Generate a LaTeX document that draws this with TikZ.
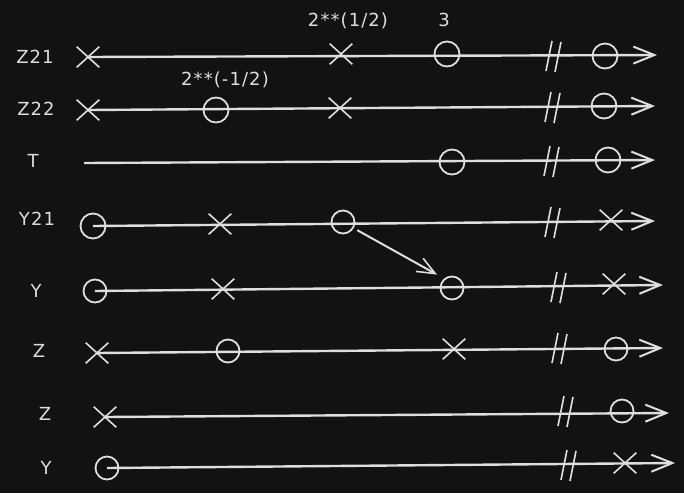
\documentclass[tikz,border=0pt]{standalone}
\usepackage{fontspec}
\setmainfont{DejaVu Sans}[LetterSpace=6]
\usetikzlibrary{arrows.meta, shapes.misc}

\definecolor{bg}{HTML}{121212}
\definecolor{ink}{HTML}{DEDEDE}

\tikzset{
    axis/.style={ink, line width=2.4pt, -{Straight Barb[length=21pt, width=17pt, line width=2pt]}},
    zero/.style={circle, draw=ink, line width=1.8pt, minimum size=25pt, inner sep=0pt},
    pole/.style={cross out, draw=ink, line width=1.6pt, minimum width=21pt, minimum height=19pt, inner sep=0pt},
    lbl/.style={text=ink, font=\fontsize{18}{20}\selectfont},
    brk/.pic={
        \draw[ink, line width=1.6pt] (-8,15) -- (-2,-15);
        \draw[ink, line width=1.6pt] (1,16) -- (7,-14);
    }
}

\begin{document}
\begin{tikzpicture}[x=1pt, y=-1pt]
    \fill[bg] (0,0) rectangle (684,493);
    \useasboundingbox (0,0) rectangle (684,493);

    % Z21
    \node[lbl] (l1) at (35,57) {Z21};
    \node[pole] (a1) at (88,57) {};
    \node[pole] (a2) at (341,54) {};
    \node[zero] (a3) at (447,54) {};
    \node[zero] (a4) at (605,56) {};
    \coordinate (ae) at (657,55);
    \draw[axis] (a1.center) -- (ae);
    \pic at (554,56) {brk};
    \node[lbl] (v1) at (348,21) {2**(1/2)};
    \node[lbl] (v2) at (444,20) {3};

    % Z22
    \node[lbl] (l2) at (36,109) {Z22};
    \node[pole] (b1) at (88,110) {};
    \node[zero] (b2) at (216,110) {};
    \node[pole] (b3) at (340,108) {};
    \node[zero] (b4) at (604,106) {};
    \coordinate (be) at (655,106);
    \draw[axis] (b1.center) -- (be);
    \pic at (553,107) {brk};
    \node[lbl] (v3) at (225,80) {2**(-1/2)};

    % T
    \node[lbl] (l3) at (33,161) {T};
    \coordinate (c0) at (84,163);
    \node[zero] (c1) at (452,162) {};
    \node[zero] (c2) at (608,160) {};
    \coordinate (ce) at (655,160);
    \draw[axis] (c0) -- (ce);
    \pic at (552,161) {brk};

    % Y21
    \node[lbl] (l4) at (37,219) {Y21};
    \node[zero, minimum width=22pt, minimum height=25pt] (d1) at (93,226) {};
    \node[pole] (d2) at (220,224) {};
    \node[zero, minimum size=23pt] (d3) at (343,222) {};
    \node[pole] (d4) at (611,220) {};
    \coordinate (de) at (655,221);
    \draw[axis] (d1.center) -- (de);
    \pic at (553,222) {brk};

    % Y
    \node[lbl] (l5) at (36,291) {Y};
    \node[zero, minimum size=23pt] (e1) at (95,291) {};
    \node[pole] (e2) at (223,289) {};
    \node[zero, minimum size=23pt] (e3) at (452,288) {};
    \node[pole] (e4) at (614,284) {};
    \coordinate (ee) at (663,285);
    \draw[axis] (e1.center) -- (ee);
    \pic at (559,287) {brk};

    \draw[ink, line width=2pt, shorten <=4pt, shorten >=8pt,
          -{Straight Barb[length=18pt, width=15pt, line width=1.6pt]}] (d3.-30) -- (e3.130);

    % Z
    \node[lbl] (l6) at (39,351) {Z};
    \node[pole] (f1) at (97,353) {};
    \node[zero, minimum size=23pt] (f2) at (228,351) {};
    \node[pole] (f3) at (454,349) {};
    \node[zero, minimum size=23pt] (f4) at (616,349) {};
    \coordinate (fe) at (663,348);
    \draw[axis] (f1.center) -- (fe);
    \pic at (560,348) {brk};

    % Z
    \node[lbl] (l7) at (45,414) {Z};
    \node[pole] (g1) at (105,417) {};
    \node[zero, minimum size=23pt] (g2) at (622,411) {};
    \coordinate (ge) at (669,413);
    \draw[axis] (g1.center) -- (ge);
    \pic at (566,411) {brk};

    % Y
    \node[lbl] (l8) at (46,468) {Y};
    \node[zero, minimum size=23pt] (h1) at (107,468) {};
    \node[pole] (h2) at (625,463) {};
    \coordinate (he) at (675,463);
    \draw[axis] (h1.center) -- (he);
    \pic at (569,465) {brk};
\end{tikzpicture}
\end{document}
